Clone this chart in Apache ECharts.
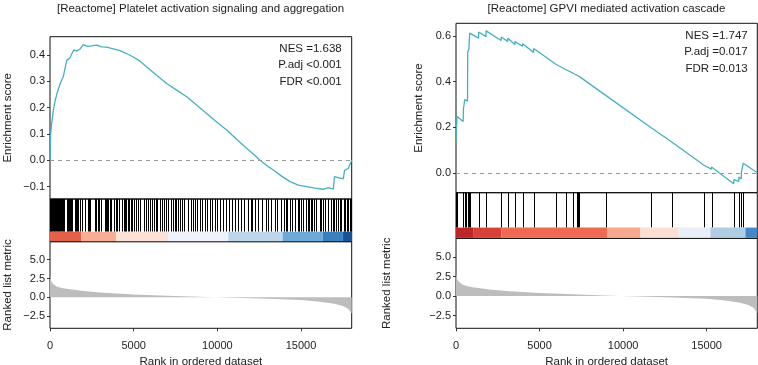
<!DOCTYPE html>
<html><head><meta charset="utf-8">
<script src="https://cdn.jsdelivr.net/npm/echarts@6/dist/echarts.min.js"></script>
<style>html,body{margin:0;padding:0;background:#fff}#c{width:758px;height:365px}</style>
</head><body><div id="c"></div>
<script>
// ---------------- data ----------------
const N_GENES = 18030;
const panelTitles = ['[Reactome] Platelet activation signaling and aggregation', '[Reactome] GPVI mediated activation cascade'];
const statsLeft = ['NES =1.638', 'P.adj <0.001', 'FDR <0.001'];
const statsRight = ['NES =1.747', 'P.adj =0.017', 'FDR =0.013'];
const esTicksLeft = [-0.1, 0.0, 0.1, 0.2, 0.3, 0.4];
const esTicksRight = [0.0, 0.2, 0.4, 0.6];
const metricTicks = [-2.5, 0.0, 2.5, 5.0];
const rankTicks = [0, 5000, 10000, 15000];
const axisNames = ['Enrichment score', 'Ranked list metric', 'Rank in ordered dataset'];

// running enrichment score [rank, ES]
const esLeft = [[0,0.0],[40,0.10],[100,0.14],[200,0.19],[300,0.225],[400,0.25],[500,0.27],[600,0.29],[800,0.32],[900,0.35],[1000,0.38],[1100,0.387],[1200,0.39],[1300,0.405],[1430,0.42],[1590,0.415],[1790,0.423],[1990,0.44],[2230,0.433],[2490,0.435],[2790,0.438],[3090,0.431],[3390,0.43],[3780,0.424],[4180,0.417],[4580,0.406],[4980,0.393],[5380,0.377],[5780,0.355],[6370,0.323],[6970,0.292],[7570,0.267],[8170,0.242],[8760,0.21],[9360,0.178],[9960,0.146],[10560,0.115],[11150,0.08],[11750,0.046],[12150,0.024],[12550,0.0],[12950,-0.02],[13350,-0.037],[13840,-0.06],[14340,-0.081],[14840,-0.094],[15340,-0.1],[15840,-0.106],[16330,-0.11],[16630,-0.104],[16930,-0.109],[17000,-0.062],[17330,-0.068],[17530,-0.07],[17600,-0.039],[17830,-0.03],[18030,0.0]];
const esRight = [[0,0.135],[60,0.248],[430,0.226],[440,0.278],[510,0.272],[520,0.322],[690,0.315],[700,0.53],[760,0.527],[770,0.54],[810,0.537],[820,0.612],[1350,0.59],[1360,0.617],[1790,0.597],[1800,0.622],[2700,0.58],[2710,0.595],[3090,0.576],[3100,0.59],[3520,0.562],[3530,0.575],[3980,0.555],[3990,0.566],[4640,0.528],[4650,0.545],[5980,0.476],[5990,0.48],[6590,0.452],[6600,0.456],[7000,0.437],[7230,0.428],[7390,0.422],[9000,0.338],[11660,0.2],[11670,0.203],[12950,0.134],[12960,0.137],[14840,0.035],[14850,0.04],[15280,0.018],[15290,0.027],[16620,-0.046],[16630,-0.028],[16920,-0.036],[16930,-0.016],[17070,-0.025],[17080,0.006],[17180,0.002],[17190,0.044],[18030,0.002]];

// gene-set member positions (rank)
const hitsLeft = [10,40,80,120,160,210,260,300,350,400,450,500,560,620,680,740,800,860,1000,1050,1100,1150,1200,1260,1330,1500,1560,1620,1680,1820,1920,2100,2280,2340,2400,2700,2760,2880,2950,3050,3270,3330,3400,3470,3570,3650,3800,3930,4000,4110,4310,4400,4470,4530,4670,4750,4820,4920,5010,5140,5260,5380,5620,5740,5860,5980,6100,6220,6320,6420,6580,6720,6820,6920,7080,7250,7350,7450,7520,7650,7770,7900,8010,8250,8400,8550,8650,8800,8970,9100,9240,9400,9550,9670,9840,10000,10170,10350,10500,10720,10900,11050,11210,11400,11610,11810,12000,12100,12270,12450,12670,12900,13050,13200,13460,13560,13780,14010,14080,14150,14350,14470,14650,14800,14890,15010,15110,15310,15400,15490,15580,15670,15800,15910,16120,16210,16310,16450,16600,16800,16890,17000,17120,17220,17310,17400,17540,17650,17730,17800,17900,17980];
const hitsRight = [5,60,440,520,620,700,760,820,1360,1800,2710,3100,3530,3990,4650,5990,6600,7010,7230,7310,7390,9000,11660,12950,14850,15290,16630,16930,17080,17190];

// colour-bar segment boundaries (rank)
const barEdgesLeft = [0,1870,3960,7060,10660,13900,16300,17500,18030];
const barEdgesRight = [0,1060,2710,9040,11040,13330,15230,17320,18030];

// ranked list metric [rank, value]
const metric = [[0,2.9],[50,2.3],[150,1.85],[400,1.45],[700,1.25],[1000,1.12],[2000,0.85],[3000,0.64],[5000,0.38],[7000,0.22],[8500,0.1],[9800,0.0],[11000,-0.06],[13000,-0.19],[15000,-0.36],[16000,-0.55],[17000,-0.85],[17500,-1.15],[17800,-1.5],[17950,-1.9],[18030,-2.2]];

// ---------------- style ----------------
const barColorsLeft = ['#E3604A','#F7AE94','#FCE2D6','#EEF2FB','#BED6EA','#6EA9D7','#3A80BF','#185499'];
const barColorsRight = ['#BC2629','#D8413A','#EE6A53','#F5A88D','#FCDFD2','#E8EFF8','#AFCCE5','#4488C6'];
const FONT = '"Liberation Sans", Arial, sans-serif';
const TXT = '#222';
const ES_COLOR = '#45B0C2';
const BAR_FRAC = 0.235;
const LINE_H = 16.3;

const layout = [
  {left:50, width:301.7, es:[36.7,162.3], hit:[199,42.7], met:[241.7,86.6], esRange:[-0.147,0.47], esTicks:esTicksLeft, esGap:36, metGap:36, titleX:200.5, statX:341.7, statY:65.3},
  {left:456, width:301.3, es:[23.3,169.4], hit:[192.7,45.6], met:[238.3,90], esRange:[-0.085,0.655], esTicks:esTicksRight, esGap:31, metGap:63, titleX:606.5, statX:747.7, statY:52.3}
];
const panels = [
  {es:esLeft, hits:hitsLeft, edges:barEdgesLeft, colors:barColorsLeft, stats:statsLeft},
  {es:esRight, hits:hitsRight, edges:barEdgesRight, colors:barColorsRight, stats:statsRight}
];

const fmt1 = v => v.toFixed(1).replace('-', '\u2212');
const grids = [], xAxes = [], yAxes = [], series = [], graphics = [];

layout.forEach((L, p) => {
  const P = panels[p];
  const gi = grids.length;
  [L.es, L.hit, L.met].forEach(g => grids.push({left:L.left, top:g[0], width:L.width, height:g[1], containLabel:false, outerBoundsMode:'none', show:true, borderColor:'#111', borderWidth:1, backgroundColor:'transparent'}));
  for (let k = 0; k < 3; k++) {
    xAxes.push({type:'value', gridIndex:gi+k, min:0, max:N_GENES, show:k===2, splitLine:{show:false},
      axisLine:{show:false, onZero:false},
      axisTick:{show:k===2, length:3, lineStyle:{color:'#333'}, customValues:rankTicks},
      axisLabel:{show:k===2, customValues:rankTicks, formatter:v => String(v), color:TXT, fontFamily:FONT, fontSize:11, margin:12},
      name:k===2?axisNames[2]:'', nameLocation:'middle', nameGap:28, nameTextStyle:{color:TXT, fontFamily:FONT, fontSize:11.5}});
  }
  yAxes.push({type:'value', gridIndex:gi, min:L.esRange[0], max:L.esRange[1], splitLine:{show:false}, axisLine:{show:false, onZero:false},
    axisTick:{length:3, lineStyle:{color:'#333'}, customValues:L.esTicks},
    axisLabel:{customValues:L.esTicks, formatter:fmt1, color:TXT, fontFamily:FONT, fontSize:11, margin:5},
    name:axisNames[0], nameLocation:'middle', nameGap:L.esGap, nameTextStyle:{color:TXT, fontFamily:FONT, fontSize:11.5}});
  yAxes.push({type:'value', gridIndex:gi+1, min:0, max:1, show:false});
  yAxes.push({type:'value', gridIndex:gi+2, min:-4.13, max:7.4, splitLine:{show:false}, axisLine:{show:false, onZero:false},
    axisTick:{length:3, lineStyle:{color:'#333'}, customValues:metricTicks},
    axisLabel:{customValues:metricTicks, formatter:fmt1, color:TXT, fontFamily:FONT, fontSize:11, margin:5},
    name:axisNames[1], nameLocation:'middle', nameGap:L.metGap, nameTextStyle:{color:TXT, fontFamily:FONT, fontSize:11.5}});

  // ES curve
  series.push({type:'line', xAxisIndex:gi, yAxisIndex:gi, data:P.es, showSymbol:false, symbol:'none', lineStyle:{color:ES_COLOR, width:1.3}, animation:false,
    markLine:{silent:true, symbol:'none', label:{show:false}, lineStyle:{color:'#999', type:[4,4], width:1}, data:[{yAxis:0}]}});
  // hits
  series.push({type:'custom', xAxisIndex:gi+1, yAxisIndex:gi+1, data:P.hits.map(r => [r]), encode:{x:0}, animation:false, silent:true,
    renderItem:(params, api) => {
      const a = api.coord([api.value(0), 1]);
      const b = api.coord([api.value(0), BAR_FRAC]);
      const x = Math.round(a[0]) + 0.5;
      return {type:'line', shape:{x1:x, y1:a[1], x2:x, y2:b[1]}, style:{stroke:'#000', lineWidth:1}};
    }});
  // colour bar
  const segs = P.edges.slice(0, -1).map((s, i) => [s, P.edges[i+1], i]);
  series.push({type:'custom', xAxisIndex:gi+1, yAxisIndex:gi+1, data:segs, encode:{x:[0,1]}, animation:false, silent:true,
    renderItem:(params, api) => {
      const a = api.coord([api.value(0), BAR_FRAC]);
      const b = api.coord([api.value(1), 0]);
      return {type:'rect', shape:{x:a[0], y:a[1], width:b[0]-a[0], height:b[1]-a[1]-0.5}, style:{fill:P.colors[api.value(2)]}};
    }});
  // ranked metric
  series.push({type:'line', xAxisIndex:gi+2, yAxisIndex:gi+2, data:metric, showSymbol:false, symbol:'none', lineStyle:{width:0, color:'#bdbdbd'}, areaStyle:{color:'#bdbdbd', opacity:1}, animation:false});

  graphics.push({type:'text', x:L.titleX, y:9, style:{text:panelTitles[p], textAlign:'center', textVerticalAlign:'middle', font:'11.5px ' + FONT, fill:TXT}});
  graphics.push({type:'text', x:L.statX, y:L.statY, style:{text:P.stats.join('\n'), textAlign:'right', textVerticalAlign:'middle', lineHeight:LINE_H, font:'11.5px ' + FONT, fill:TXT}});
});

const chart = echarts.init(document.getElementById('c'), null, {renderer:'canvas'});
chart.setOption({animation:false, backgroundColor:'#fff', grid:grids, xAxis:xAxes, yAxis:yAxes, series:series, graphic:graphics});
</script>
</body></html>
